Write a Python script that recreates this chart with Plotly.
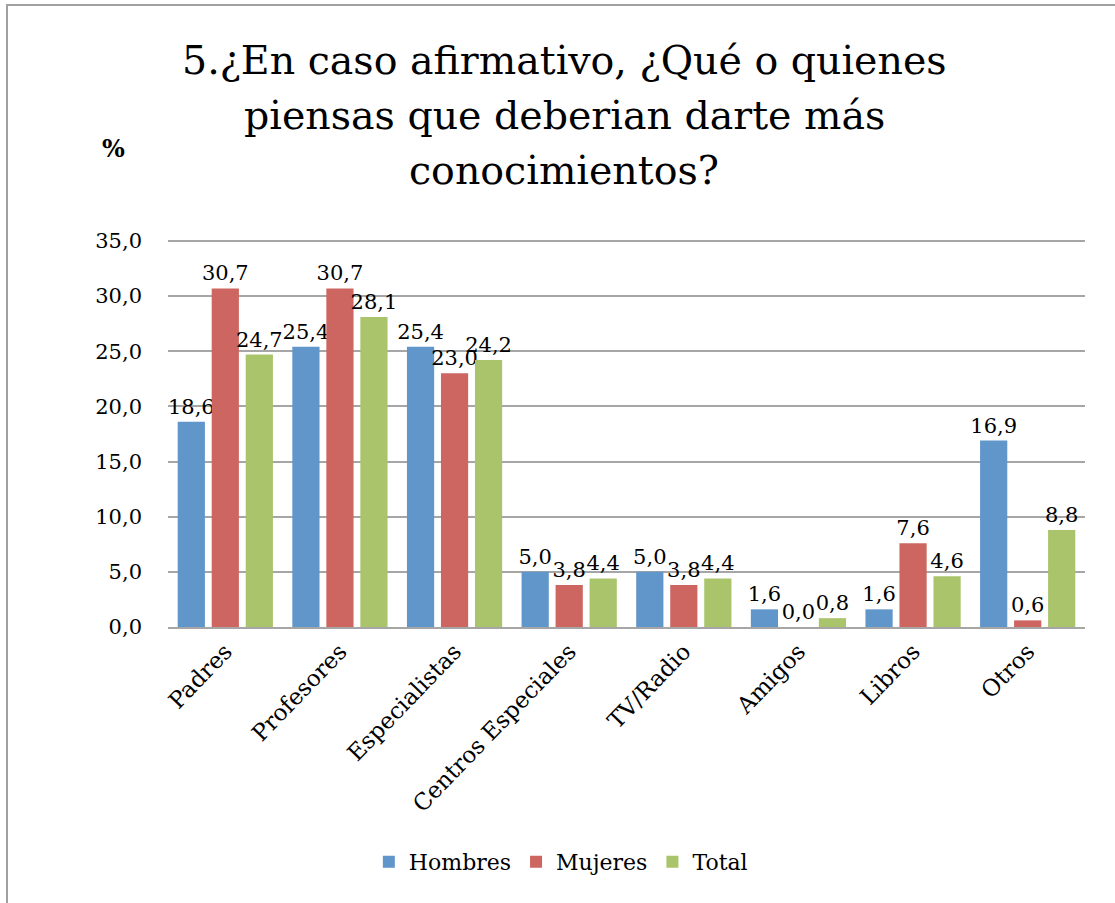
import plotly.graph_objects as go

categories = ["Padres", "Profesores", "Especialistas", "Centros Especiales",
              "TV/Radio", "Amigos", "Libros", "Otros"]
hombres = [18.6, 25.4, 25.4, 5.0, 5.0, 1.6, 1.6, 16.9]
mujeres = [30.7, 30.7, 23.0, 3.8, 3.8, 0.0, 7.6, 0.6]
total = [24.7, 28.1, 24.2, 4.4, 4.4, 0.8, 4.6, 8.8]
y_ticks = [0, 5, 10, 15, 20, 25, 30, 35]
title_lines = ["5.¿En caso afirmativo, ¿Qué o quienes",
               "piensas que deberian darte más",
               "conocimientos?"]

FONT = "DejaVu Serif"
W, H = 1115, 903
L, R, T, B = 168, 30, 241, 276
PW, PH = W - L - R, H - T - B


def px(x):
    return (x - L) / PW


def py(y):
    return (H - B - y) / PH


series = [("Hombres", hombres, "#6096C9"),
          ("Mujeres", mujeres, "#CD6560"),
          ("Total", total, "#A9C46B")]

fig = go.Figure()
for name, vals, col in series:
    fig.add_trace(go.Bar(
        x=categories, y=vals, name=name, marker_color=col,
        marker_line_width=0,
        texttemplate="%{y:.1f}", textposition="outside", constraintext="none",
        textfont=dict(family=FONT, size=21, color="black"),
        cliponaxis=False,
    ))

annotations = [dict(text="<b>%</b>", x=px(113), y=py(148), xref="paper", yref="paper",
                    xanchor="center", yanchor="middle",
                    showarrow=False, font=dict(family=FONT, size=24))]
for i, line in enumerate(title_lines):
    annotations.append(dict(text=line, x=px(564), y=py(60 + 55 * i),
                            xref="paper", yref="paper",
                            xanchor="center", yanchor="middle", showarrow=False,
                            font=dict(family=FONT, size=39.5, color="black")))

fig.update_layout(
    width=W, height=H,
    separators=",.",
    paper_bgcolor="white", plot_bgcolor="white",
    margin=dict(l=L, r=R, t=T, b=B, autoexpand=False),
    barmode="group", bargap=0.11, bargroupgap=0.2,
    font=dict(family=FONT, size=21, color="black"),
    legend=dict(orientation="h", x=0.503, xref="container", xanchor="center",
                y=1 - 862 / H, yref="container", yanchor="middle",
                font=dict(family=FONT, size=22), traceorder="normal"),
    annotations=annotations,
    shapes=[
        dict(type="rect", xref="paper", yref="paper",
             x0=px(7), x1=px(1130), y0=py(930), y1=py(5),
             line=dict(color="#a0a0a0", width=2), layer="below"),
        dict(type="line", xref="paper", yref="paper", x0=0, x1=1,
             y0=1, y1=1,
             line=dict(color="#a6a6a6", width=2), layer="below"),
    ],
)

fig.update_yaxes(range=[0, y_ticks[-1]], tickvals=y_ticks, tickformat=".1f",
                 showgrid=True, gridcolor="#a6a6a6", gridwidth=2,
                 zeroline=False, showline=False, ticks="",
                 tickfont=dict(family=FONT, size=21), ticklabelstandoff=25)
fig.update_xaxes(tickangle=-46, showline=True, linecolor="#a6a6a6", linewidth=2,
                 ticks="", tickfont=dict(family=FONT, size=23))

fig.write_html("out.html", post_script="document.body.style.margin='0';",
               config={"displayModeBar": False})
